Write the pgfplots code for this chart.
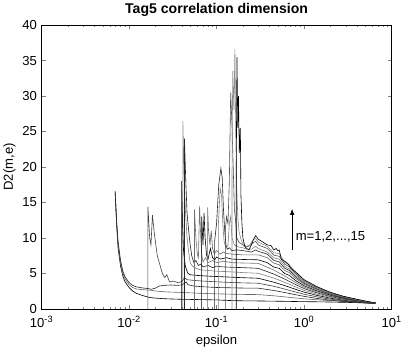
\documentclass[border=0pt]{standalone}
\usepackage{fontspec}
\setmainfont{Liberation Sans}
\usepackage{pgfplots}
\pgfplotsset{compat=1.18}
\usetikzlibrary{arrows.meta}
\begin{document}
\begin{tikzpicture}[font=\fontsize{13}{15}\selectfont]
\begin{axis}[
  scale only axis, width=348pt, height=282pt,
  xmode=log, xmin=0.001, xmax=10, ymin=0, ymax=40,
  xtick={0.001,0.01,0.1,1,10},
  xticklabels={10\textsuperscript{-3},10\textsuperscript{-2},10\textsuperscript{-1},10\textsuperscript{0},10\textsuperscript{1}},
  ytick={0,5,...,40},
  /pgf/number format/assume math mode=true,
  xticklabel style={yshift=-4pt},
  yticklabel style={xshift=-1pt},
  tick align=inside,
  major tick length=4pt, minor tick length=2pt,
  title={\fontsize{14}{16}\selectfont\bfseries Tag5 correlation dimension},
  title style={yshift=-1pt},
  xlabel={epsilon}, ylabel={D2(m,e)},
  xlabel style={yshift=-1pt},
  every axis plot/.append style={line width=0.6pt, mark=none},
]
\addplot[black] coordinates {(0.00694,16.6) (0.0072,12.0) (0.0075,8.5) (0.008,6.0) (0.0085,4.6) (0.009,3.8) (0.010,3.0) (0.011,2.5) (0.012,2.2) (0.014,1.9) (0.017,1.6) (0.020,1.5) (0.025,1.42) (0.030,1.38) (0.040,1.33) (0.060,1.3) (0.080,1.27) (0.100,1.25) (0.120,1.2) (0.15,1.15) (0.2,1.12) (0.3,1.10) (0.45,1.07) (0.6,1.05) (0.8,1.02) (1.0,1.0) (1.4,0.98) (2.0,0.95) (2.8,0.91) (4.0,0.86) (5.2,0.80) (6.6,0.74)};
\addplot[black!60] coordinates {(0.00694,16.4) (0.0072,12.3) (0.0075,9.0) (0.008,6.4) (0.0085,5.0) (0.009,4.2) (0.010,3.4) (0.011,3.0) (0.012,2.8) (0.014,2.7) (0.016,2.65) (0.018,2.6) (0.020,2.5) (0.025,2.4) (0.030,2.35) (0.040,2.3) (0.060,2.2) (0.100,2.1) (0.15,2.05) (0.2,2.02) (0.3,2.0) (0.45,1.83) (0.6,1.68) (0.8,1.52) (1.0,1.40) (1.4,1.27) (2.0,1.14) (2.8,1.02) (4.0,0.92) (5.2,0.83) (6.6,0.75)};
\addplot[black!85] coordinates {(0.00694,16.2) (0.0072,12.5) (0.0075,9.4) (0.008,6.8) (0.0085,5.3) (0.009,4.5) (0.010,3.7) (0.011,3.3) (0.012,3.1) (0.014,2.95) (0.0165,2.85) (0.018,2.75) (0.020,2.9) (0.022,3.2) (0.025,3.3) (0.030,3.35) (0.035,3.3) (0.040,3.35) (0.043,3.6) (0.045,3.8) (0.047,3.4) (0.055,3.2) (0.070,3.1) (0.100,3.0) (0.15,2.95) (0.2,2.92) (0.3,2.9) (0.45,2.58) (0.6,2.29) (0.8,1.98) (1.0,1.75) (1.4,1.46) (2.0,1.21) (2.8,1.04) (4.0,0.91) (5.2,0.82) (6.6,0.75)};
\addplot[black!75] coordinates {(0.01644,0) (0.01644,14.4) (0.0172,10.0) (0.0178,9.0) (0.0185,13.2) (0.0195,10.5) (0.021,7.5) (0.0225,6.2) (0.024,5.0) (0.0255,4.4) (0.027,4.8) (0.029,3.8) (0.032,3.9) (0.036,3.7) (0.040,3.8) (0.043,4.4) (0.046,4.1) (0.055,4.0) (0.070,3.9) (0.100,3.8) (0.15,3.7) (0.2,3.65) (0.3,3.6) (0.45,3.17) (0.6,2.78) (0.8,2.36) (1.0,2.05) (1.4,1.68) (2.0,1.35) (2.8,1.13) (4.0,0.97) (5.2,0.85) (6.6,0.76)};
\addplot[black] coordinates {(0.0400,0) (0.0400,18.0) (0.041,12.0) (0.042,8.0) (0.044,6.0) (0.047,5.0) (0.050,4.8) (0.060,4.7) (0.080,4.6) (0.100,4.55) (0.15,4.45) (0.2,4.38) (0.3,4.3) (0.45,3.75) (0.6,3.27) (0.8,2.74) (1.0,2.35) (1.4,1.89) (2.0,1.49) (2.8,1.22) (4.0,1.01) (5.2,0.87) (6.6,0.76)};
\addplot[black!50] coordinates {(0.0412,0) (0.0412,26.5) (0.0425,19.0) (0.044,14.0) (0.046,10.0) (0.048,8.0) (0.050,6.5) (0.053,6.0) (0.058,5.7) (0.065,5.5) (0.080,5.4) (0.100,5.3) (0.15,5.2) (0.2,5.1) (0.3,5.0) (0.45,4.33) (0.6,3.73) (0.8,3.08) (1.0,2.6) (1.4,2.07) (2.0,1.61) (2.8,1.30) (4.0,1.06) (5.2,0.90) (6.6,0.77)};
\addplot[black!85] coordinates {(0.0430,0) (0.0430,24.0) (0.0445,18.0) (0.046,13.5) (0.048,11.0) (0.050,9.0) (0.052,7.5) (0.055,6.5) (0.058,6.8) (0.062,6.1) (0.066,6.3) (0.070,5.9) (0.080,6.1) (0.090,5.8) (0.100,6.0) (0.12,5.9) (0.15,5.85) (0.2,5.8) (0.3,5.7) (0.45,4.90) (0.6,4.19) (0.8,3.42) (1.0,2.85) (1.4,2.25) (2.0,1.73) (2.8,1.37) (4.0,1.10) (5.2,0.92) (6.6,0.77)};
\addplot[black!55] coordinates {(0.056,0) (0.056,14.0) (0.058,10.0) (0.060,8.0) (0.062,7.0) (0.064,14.5) (0.066,10.0) (0.068,7.5) (0.070,6.6) (0.075,7.2) (0.080,6.5) (0.090,6.8) (0.100,6.5) (0.12,6.7) (0.15,6.5) (0.2,6.45) (0.3,6.4) (0.45,5.46) (0.6,4.62) (0.8,3.72) (1.0,3.05) (1.4,2.39) (2.0,1.82) (2.8,1.44) (4.0,1.14) (5.2,0.94) (6.6,0.78)};
\addplot[black] coordinates {(0.0676,0) (0.0676,13.0) (0.070,9.0) (0.072,13.5) (0.074,10.0) (0.077,7.5) (0.080,7.0) (0.085,8.5) (0.090,7.2) (0.095,6.9) (0.100,7.3) (0.11,7.0) (0.13,7.2) (0.15,7.0) (0.2,6.95) (0.3,6.9) (0.38,6.5) (0.45,5.88) (0.52,5.7) (0.6,4.97) (0.68,4.7) (0.8,3.98) (1.0,3.25) (1.4,2.53) (2.0,1.92) (2.8,1.50) (4.0,1.18) (5.2,0.95) (6.6,0.78)};
\addplot[black!60] coordinates {(0.079,0) (0.079,14.3) (0.081,11.0) (0.084,9.0) (0.087,11.0) (0.090,8.5) (0.094,7.8) (0.100,8.2) (0.11,7.7) (0.12,8.0) (0.13,7.8) (0.15,7.7) (0.2,7.6) (0.3,7.6) (0.38,7.2) (0.45,6.44) (0.52,6.2) (0.6,5.40) (0.68,5.1) (0.8,4.28) (1.0,3.45) (1.4,2.68) (2.0,2.01) (2.8,1.56) (4.0,1.22) (5.2,0.98) (6.6,0.79)};
\addplot[black!85] coordinates {(0.095,0) (0.095,9.5) (0.100,12.0) (0.106,17.5) (0.112,19.8) (0.116,18.5) (0.120,14.0) (0.124,11.0) (0.128,9.0) (0.133,8.4) (0.14,8.6) (0.15,8.2) (0.17,8.3) (0.2,8.2) (0.25,8.0) (0.28,8.3) (0.3,8.1) (0.38,7.7) (0.45,6.84) (0.52,6.6) (0.6,5.72) (0.68,5.4) (0.8,4.50) (1.0,3.6) (1.4,2.79) (2.0,2.08) (2.8,1.60) (4.0,1.24) (5.2,0.99) (6.6,0.79)};
\addplot[black!50] coordinates {(0.105,0) (0.105,12.0) (0.110,17.0) (0.114,16.0) (0.118,12.0) (0.122,9.5) (0.128,8.5) (0.135,9.0) (0.140,12.0) (0.145,13.0) (0.150,10.0) (0.16,9.0) (0.18,8.7) (0.2,8.6) (0.22,8.4) (0.25,8.4) (0.28,8.8) (0.3,8.5) (0.38,8.0) (0.45,7.17) (0.52,7.0) (0.6,5.98) (0.68,5.6) (0.8,4.70) (1.0,3.75) (1.4,2.89) (2.0,2.16) (2.8,1.66) (4.0,1.27) (5.2,1.01) (6.6,0.80)};
\addplot[black!70] coordinates {(0.126,0) (0.126,11.0) (0.130,13.0) (0.135,12.0) (0.140,18.0) (0.145,30.5) (0.150,26.0) (0.155,20.0) (0.160,14.0) (0.165,12.5) (0.170,10.0) (0.18,9.4) (0.2,9.0) (0.22,8.7) (0.24,8.9) (0.26,9.3) (0.28,9.5) (0.3,9.0) (0.38,8.5) (0.45,7.57) (0.52,7.4) (0.6,6.30) (0.68,5.9) (0.8,4.92) (1.0,3.9) (1.4,3.00) (2.0,2.23) (2.8,1.70) (4.0,1.30) (5.2,1.02) (6.6,0.80)};
\addplot[black!45] coordinates {(0.150,0) (0.150,18.0) (0.153,33.5) (0.158,28.0) (0.162,36.7) (0.166,24.0) (0.170,17.0) (0.175,13.0) (0.180,11.0) (0.19,9.8) (0.2,9.2) (0.22,8.8) (0.24,9.0) (0.26,9.7) (0.28,9.9) (0.3,9.4) (0.38,8.8) (0.45,7.89) (0.52,7.8) (0.6,6.54) (0.68,6.2) (0.8,5.08) (1.0,4.0) (1.4,3.07) (2.0,2.28) (2.8,1.74) (4.0,1.32) (5.2,1.03) (6.6,0.81)};
\addplot[black] coordinates {(0.168,0) (0.168,20.0) (0.171,35.5) (0.175,25.5) (0.178,30.0) (0.182,22.0) (0.187,25.5) (0.190,16.0) (0.195,12.0) (0.2,10.0) (0.21,8.8) (0.22,8.5) (0.235,8.3) (0.25,9.0) (0.265,9.8) (0.28,10.3) (0.3,9.8) (0.34,9.4) (0.38,9.0) (0.42,8.9) (0.45,8.3) (0.48,8.5) (0.5,8.2) (0.52,8.3) (0.55,7.0) (0.6,6.7) (0.65,6.4) (0.7,5.8) (0.8,5.2) (1.0,4.1) (1.4,3.12) (2.0,2.32) (2.8,1.77) (4.0,1.34) (5.2,1.05) (6.6,0.82)};
\draw[-{Latex[length=6pt,width=4.5pt]}, line width=0.7pt] (axis cs:0.73,8.3) -- (axis cs:0.73,14.1);
\node[anchor=west, inner sep=0pt] at (axis cs:0.80,10.2) {m=1,2,...,15};
\end{axis}
\end{tikzpicture}
\end{document}
